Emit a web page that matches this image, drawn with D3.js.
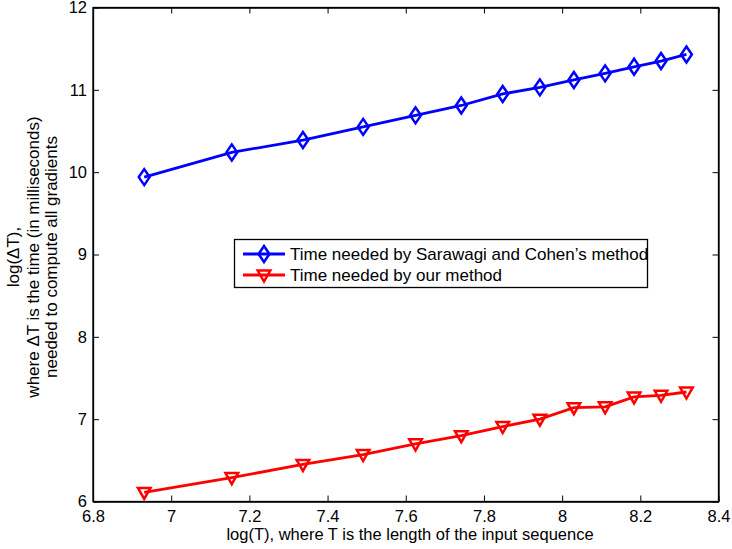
<!DOCTYPE html>
<html>
<head>
<meta charset="utf-8">
<script src="https://cdn.jsdelivr.net/npm/d3@7"></script>
<style>
  body { margin: 0; background: #fff; }
  svg { font-family: "Liberation Sans", Arial, Helvetica, sans-serif; }
</style>
</head>
<body>
<svg width="732" height="549"></svg>
<script>
// log(T) for each input length
var logT = [6.931, 7.155, 7.337, 7.491, 7.625, 7.742, 7.848, 7.943, 8.030, 8.110, 8.184, 8.253, 8.318];
var sarawagiTimes = [9.94, 10.24, 10.39, 10.55, 10.69, 10.81, 10.95, 11.03, 11.12, 11.20, 11.28, 11.35, 11.43];
var ourTimes = [6.11, 6.29, 6.45, 6.57, 6.70, 6.80, 6.91, 7.00, 7.14, 7.15, 7.27, 7.29, 7.33];
var xTicks = [6.8, 7, 7.2, 7.4, 7.6, 7.8, 8, 8.2, 8.4];
var yTicks = [6, 7, 8, 9, 10, 11, 12];
var seriesNames = ["Time needed by Sarawagi and Cohen\u2019s method", "Time needed by our method"];

var mLeft = 93, mTop = 7.5, mRight = 718.5, mBottom = 501.5;

var svg = d3.select("svg");

var x = d3.scaleLinear().domain([6.8, 8.4]).range([mLeft, mRight]);
var y = d3.scaleLinear().domain([6, 12]).range([mBottom, mTop]);

// axes, ticks pointing inward like matlab
var xAxis = d3.axisBottom(x).tickValues(xTicks).tickSizeInner(-6).tickSizeOuter(0).tickPadding(9)
  .tickFormat(d3.format("~g"));
var yAxis = d3.axisLeft(y).tickValues(yTicks).tickSizeInner(-6).tickSizeOuter(0).tickPadding(6)
  .tickFormat(d3.format("d"));

var gx = svg.append("g").attr("transform", `translate(0, ${mBottom})`).call(xAxis);
var gy = svg.append("g").attr("transform", `translate(${mLeft}, 0)`).call(yAxis);
svg.append("g").attr("transform", `translate(0, ${mTop})`)
  .call(d3.axisTop(x).tickValues(xTicks).tickSizeInner(-6).tickSizeOuter(0).tickFormat(""));
svg.append("g").attr("transform", `translate(${mRight}, 0)`)
  .call(d3.axisRight(y).tickValues(yTicks).tickSizeInner(-6).tickSizeOuter(0).tickFormat(""));

svg.selectAll(".domain").attr("stroke", "#000").attr("stroke-width", 1.3);
svg.selectAll(".tick line").attr("stroke", "#000").attr("stroke-width", 1);
svg.selectAll(".tick text").attr("font-size", 16.5).attr("fill", "#000")
  .attr("font-family", "Liberation Sans, Arial, sans-serif");
gx.selectAll(".tick text").attr("dy", "0.71em");

// box
svg.append("rect").attr("x", mLeft).attr("y", mTop).attr("width", mRight - mLeft).attr("height", mBottom - mTop)
  .attr("fill", "none").attr("stroke", "#000").attr("stroke-width", 1.3);

var line = d3.line().x(d => x(d[0])).y(d => y(d[1]));

function diamond(g, cx, cy, color) {
  var r = 8;
  g.append("path")
    .attr("d", `M${cx},${cy - r}L${cx + r * 0.68},${cy}L${cx},${cy + r}L${cx - r * 0.68},${cy}Z`)
    .attr("fill", "none").attr("stroke", color).attr("stroke-width", 2.5);
}
function triDown(g, cx, cy, color) {
  var r = 6.3;
  g.append("path")
    .attr("d", `M${cx - r},${cy - 4.5}L${cx + r},${cy - 4.5}L${cx},${cy + 6.5}Z`)
    .attr("fill", "none").attr("stroke", color).attr("stroke-width", 2.5);
}

var blueData = d3.zip(logT, sarawagiTimes);
var redData = d3.zip(logT, ourTimes);

svg.append("path").attr("d", line(blueData)).attr("fill", "none")
  .attr("stroke", "#0000ff").attr("stroke-width", 2.8);
svg.append("path").attr("d", line(redData)).attr("fill", "none")
  .attr("stroke", "#ff0000").attr("stroke-width", 2.8);

var mk = svg.append("g");
blueData.forEach(d => diamond(mk, x(d[0]), y(d[1]), "#0000ff"));
redData.forEach(d => triDown(mk, x(d[0]), y(d[1]), "#ff0000"));

// legend
var lg = svg.append("g");
lg.append("rect").attr("x", 234.5).attr("y", 239.5).attr("width", 413).attr("height", 48)
  .attr("fill", "#fff").attr("stroke", "#000").attr("stroke-width", 1.3);
var colors = ["#0000ff", "#ff0000"];
seriesNames.forEach((name, i) => {
  var yy = 254 + i * 21;
  lg.append("line").attr("x1", 243).attr("x2", 285).attr("y1", yy).attr("y2", yy)
    .attr("stroke", colors[i]).attr("stroke-width", 2.8);
  if (i === 0) diamond(lg, 264, yy, colors[i]); else triDown(lg, 264, yy, colors[i]);
  lg.append("text").attr("x", 290).attr("y", yy + 6).attr("font-size", 17).attr("fill", "#000")
    .text(name);
});

// axis labels
svg.append("text").attr("x", 410).attr("y", 540).attr("text-anchor", "middle")
  .attr("font-size", 16.5).attr("fill", "#000")
  .text("log(T), where T is the length of the input sequence");

var yLabel = ["log(\u0394T),", "where \u0394T is the time (in milliseconds)", "needed to compute all gradients"];
var yLabelX = [19, 39, 57];
yLabel.forEach((t, i) => {
  svg.append("text").attr("transform", `translate(${yLabelX[i]}, 257) rotate(-90)`)
    .attr("text-anchor", "middle").attr("font-size", 17).attr("fill", "#000").text(t);
});
</script>
</body>
</html>
